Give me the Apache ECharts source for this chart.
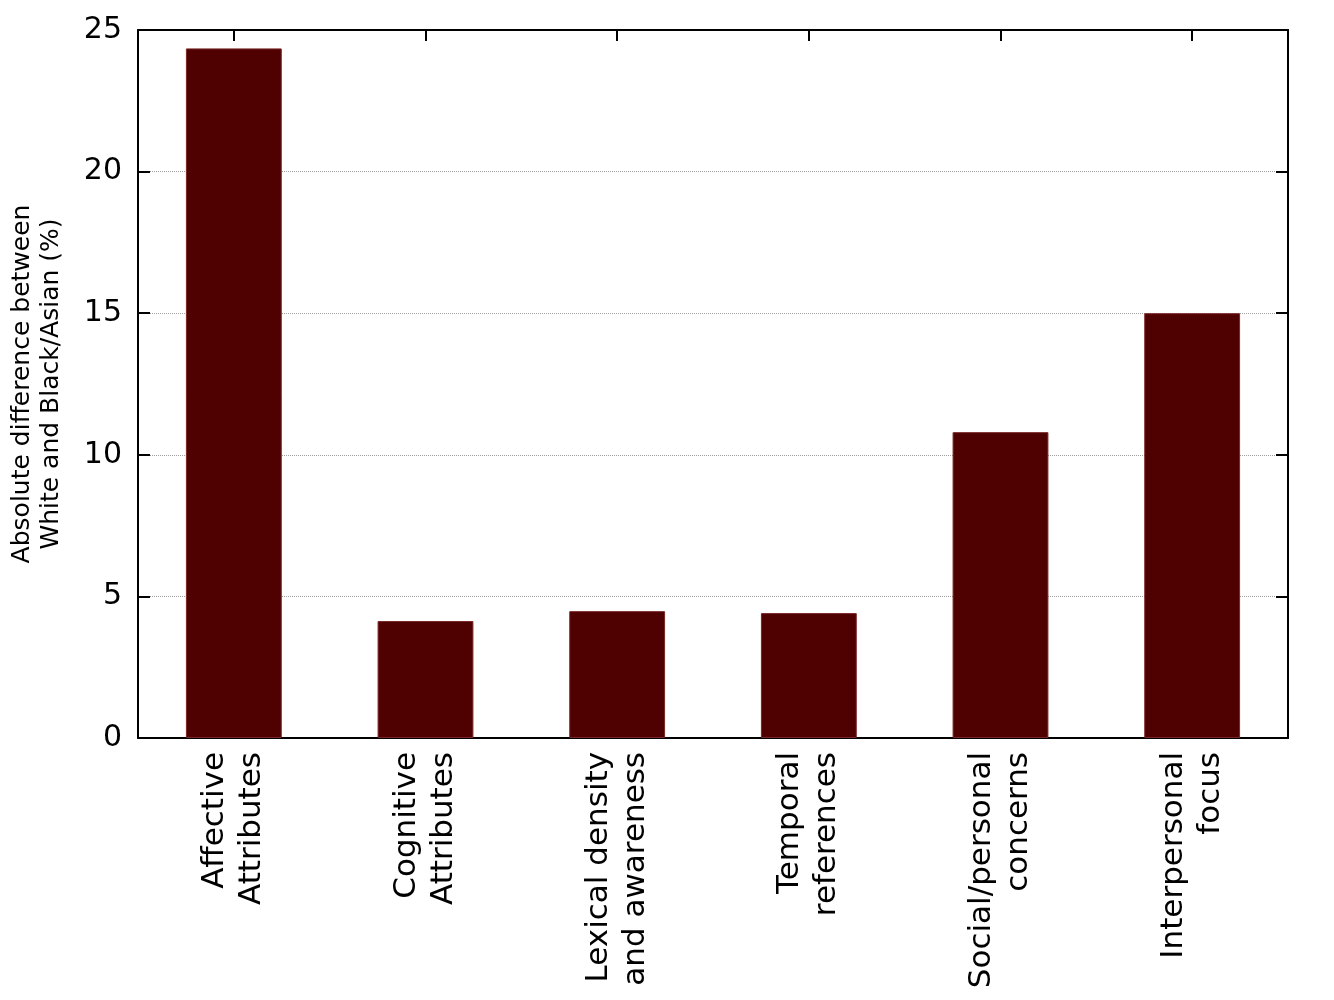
<!DOCTYPE html>
<html>
<head>
<meta charset="utf-8">
<script src="https://cdn.jsdelivr.net/npm/echarts@6/dist/echarts.min.js"></script>
<style>
  html, body { margin: 0; padding: 0; background: #fff; }
  #chart { width: 1334px; height: 1000px; }
</style>
</head>
<body>
<div id="chart"></div>
<script>
  // categories and values
  var categories = [
    'Affective\nAttributes',
    'Cognitive\nAttributes',
    'Lexical density\nand awareness',
    'Temporal\nreferences',
    'Social/personal\nconcerns',
    'Interpersonal\nfocus'
  ];
  var differences = [24.35, 4.13, 4.48, 4.41, 10.8, 15.0];
  var yMin = 0, yMax = 25, yStep = 5;

  var font = 'DejaVu Sans';
  var myChart = echarts.init(document.getElementById('chart'));

  var option = {
    backgroundColor: '#fff',
    animation: false,
    grid: { left: 138, right: 46, top: 30, bottom: 262, outerBoundsMode: 'none' },

    // Horizontal axes (bottom with labels, top for the frame ticks)
    xAxis: [{
      type: 'category',
      position: 'bottom',
      data: categories,
      axisLine: { show: true, lineStyle: { color: '#000', width: 2 } },
      axisTick: { show: false },
      axisLabel: {
        rotate: 90,
        margin: 14,
        interval: 0,
        color: '#000',
        fontFamily: font,
        fontSize: 31,
        lineHeight: 37
      }
    }, {
      type: 'category',
      position: 'top',
      data: categories,
      axisLine: { show: true, onZero: false, lineStyle: { color: '#000', width: 2 } },
      axisTick: { show: true, inside: true, alignWithLabel: true, length: 11, lineStyle: { color: '#000', width: 2 } },
      axisLabel: { show: false }
    }],

    // Vertical axes
    yAxis: [{
      type: 'value',
      position: 'left',
      min: yMin,
      max: yMax,
      interval: yStep,
      name: 'Absolute difference between\nWhite and Black/Asian (%)',
      nameLocation: 'middle',
      nameGap: 72,
      nameTextStyle: { color: '#000', fontFamily: font, fontSize: 25, lineHeight: 29 },
      axisLine: { show: true, lineStyle: { color: '#000', width: 2 } },
      axisTick: { show: true, inside: true, length: 12, lineStyle: { color: '#000', width: 2 } },
      axisLabel: { margin: 16, color: '#000', fontFamily: font, fontSize: 30 },
      splitLine: { show: true, lineStyle: { color: '#a0a0a0', type: 'dotted', width: 1 } }
    }, {
      type: 'value',
      position: 'right',
      min: yMin,
      max: yMax,
      interval: yStep,
      axisLine: { show: true, lineStyle: { color: '#000', width: 2 } },
      axisTick: { show: true, inside: true, length: 12, lineStyle: { color: '#000', width: 2 } },
      axisLabel: { show: false },
      splitLine: { show: false }
    }],

    series: [{
      name: 'difference',
      type: 'bar',
      xAxisIndex: 0,
      yAxisIndex: 0,
      barWidth: '50%',
      itemStyle: { color: '#4f0000', borderColor: '#7a2626', borderWidth: 1 },
      data: differences
    }]
  };

  myChart.setOption(option);
</script>
</body>
</html>
